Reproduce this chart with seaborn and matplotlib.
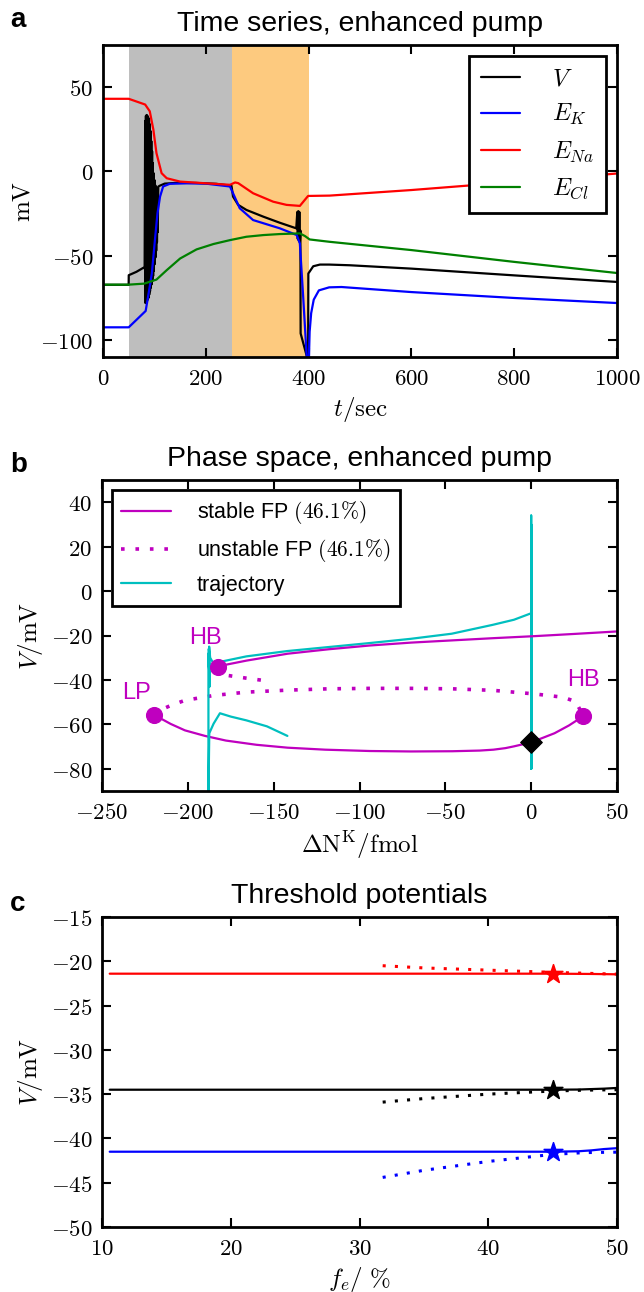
import matplotlib
matplotlib.use("Agg")
import matplotlib.pyplot as plt
from matplotlib.ticker import FuncFormatter, MultipleLocator
import seaborn as sns

# ---------------- panel a: time series ----------------
t_v = [0, 49.9, 50.1, 65, 78.5, 81,
       82, 82.5, 83.5, 84, 85, 85.5, 86.5, 87, 88, 88.5, 89.5, 90, 91, 91.5,
       92.5, 93, 94, 94.5, 95.5, 96, 97, 97.5, 98.5, 99, 100, 100.5, 101.5, 102,
       103, 103.5, 104.5, 105, 106, 106.5, 107.5,
       110, 120, 140, 180, 220, 250, 253, 263, 279, 312, 344, 376,
       378, 379, 380, 381, 382, 383, 384, 384.5, 396, 399, 399.5, 409, 422, 440,
       480, 600, 800, 1000]
v = [-67.2, -67.2, -61.5, -59.5, -57.1, -57.5,
     30, -78, 33, -78, 33.5, -77, 33, -76, 32, -75, 31, -73, 28, -71,
     24, -69, 18, -67, 12, -65, 5, -62, -1, -59, -5, -55, -8, -51,
     -9, -47, -10, -42, -10, -36, -9,
     -8.5, -7.2, -6.8, -6.8, -7.3, -8.5, -14.9, -19.8, -22.8, -26.8, -30.4, -33.7,
     -24, -40, -23.5, -41, -24, -42, -35, -96, -109, -118, -60.5, -56.2, -55.2, -55.2,
     -55.6, -57.6, -61.6, -65.5]

t_ek = [0, 50, 83, 90, 95, 101, 106, 111, 117, 130, 163, 200, 247, 253, 266,
        292, 344, 377, 383, 389, 396, 400, 402, 405, 410, 420, 440, 464, 600, 800, 1000]
ek = [-92.4, -92.4, -82.7, -70, -60.5, -40.7, -24.8, -14.9, -8.9, -7.3, -7.0, -7.2,
      -8.9, -12.9, -21.8, -28.8, -33.7, -37.7, -42.7, -72, -108, -118, -95, -84,
      -76, -70.5, -68.7, -68.5, -71.5, -75, -78]

t_ena = [0, 50, 82, 91, 98, 104, 114, 124, 150, 200, 247, 257, 263, 292, 331,
         357, 383, 399, 441, 600, 800, 1000]
ena = [43.1, 43.1, 39.7, 35.7, 24.8, 10.9, -1, -4, -6, -7, -7.9, -6.5, -6.9,
       -12.9, -17.9, -19.8, -20.4, -14.5, -14.3, -11, -6.2, -1.2]

t_ecl = [0, 50, 80, 104, 124, 150, 182, 215, 247, 279, 312, 344, 383, 393, 402,
         441, 600, 800, 1000]
ecl = [-67.1, -67.1, -66.5, -64.1, -58.5, -51.6, -46.2, -43, -40.7, -38.7, -37.7,
       -37.1, -36.7, -38.3, -40.3, -41.7, -46.6, -53.6, -60.2]

grey_window = (50, 250)
orange_window = (250, 400)

# ---------------- panel b: phase space ----------------
stable_low_dnk = [-219.5, -210, -201.7, -190, -177.8, -160, -141.9, -120, -94, -70,
                  -46, -30, -22, -15, -10, -5, 0.5, 6, 13.6, 22, 30.4]
stable_low_v = [-55.8, -59.8, -62.7, -65.2, -67.3, -69.2, -70.5, -71.4, -72, -72.2,
                -72.1, -71.8, -71.4, -70.7, -69.9, -69, -67.9, -66.3, -64, -60.5, -56.3]
stable_up_dnk = [-182.6, -180.1, -165.8, -141.9, -118, -94, -70, -46, -22, 1.7, 25, 49.5]
stable_up_v = [-34.3, -33.5, -31.3, -28.2, -26.2, -24.5, -23.2, -22.2, -21.2, -20.3,
               -19.3, -18.2]
unstable_dnk = [-219.5, -218.6, -210, -201.7, -185, -166, -142, -118, -94, -70,
                -46, -22, 1.9, 18.7, 26, 30.4]
unstable_v = [-55.8, -54.5, -51.5, -49.2, -47, -45.5, -44.6, -44, -43.8, -43.8,
              -44, -44.7, -46.3, -47.8, -49.8, -56.3]
unstable_hb_dnk = [-182.6, -178.4, -166, -153.3]
unstable_hb_v = [-34.3, -37.8, -39.2, -40.5]

traj_dnk = [0, 0, 0, 0, 0, 0, 0, 0, 0, 0.3, -10, -22.4, -46.3, -70.2, -94.1, -118,
            -142, -165.9, -180.2, -185, -187, -187.6, -187.3, -187.8, -187.4, -187.9,
            -187.5, -188, -187.7, -188, -188, -187.8, -187.5, -185, -181.3, -175,
            -165.9, -153.9, -142]
traj_v = [-68, -62, -80, 34, -80, 30, -70, 10, -20, -9.9, -12.9, -15.2, -19.2, -21.5,
          -23.4, -25.2, -27, -29.4, -31.7, -32.7, -30, -25, -43, -26, -40, -28,
          -37, -30, -34, -32, -115, -80, -64, -59.7, -55, -56.5, -58.2, -60.9, -65.2]

start_dnk, start_v = [0], [-68]
bif_dnk = [-219.5, -182.6, 30.4]
bif_v = [-55.8, -34.3, -56.3]
bif_names = ["LP", "HB", "HB"]
bif_text_dnk = [-230, -190, 30.5]
bif_text_v = [-46, -21, -40]

# ---------------- panel c: threshold potentials ----------------
fe_solid = [10.6, 20, 30, 40, 45, 47, 48, 49, 50]
thr_red = [-21.4, -21.4, -21.4, -21.4, -21.4, -21.42, -21.43, -21.45, -21.47]
thr_black = [-34.5, -34.5, -34.5, -34.5, -34.5, -34.48, -34.43, -34.38, -34.3]
thr_blue = [-41.5, -41.5, -41.5, -41.5, -41.5, -41.45, -41.35, -41.2, -41.1]
fe_dot = [31.8, 35, 40, 45, 47.5, 50]
thr_red_dot = [-20.5, -20.75, -21.0, -21.25, -21.35, -21.45]
thr_black_dot = [-35.9, -35.5, -35.0, -34.65, -34.55, -34.5]
thr_blue_dot = [-44.4, -43.6, -42.6, -41.8, -41.6, -41.55]
fe_star = [45, 45, 45]
v_star = [-21.4, -34.55, -41.5]
star_colors = ["red", "black", "blue"]

MAGENTA = "#bf00bf"
CYAN = "#00bfbf"
GREEN = "#008000"

# ---------------- style ----------------
sns.set_theme(style="ticks", color_codes=False, rc={
    "axes.linewidth": 2.0,
    "axes.edgecolor": "black",
    "axes.labelcolor": "black",
    "text.color": "black",
    "xtick.direction": "in", "ytick.direction": "in",
    "xtick.top": True, "ytick.right": True,
    "xtick.major.size": 6.5, "ytick.major.size": 6.5,
    "xtick.major.width": 1.5, "ytick.major.width": 1.5,
    "xtick.color": "black", "ytick.color": "black",
    "mathtext.fontset": "cm",
    "legend.fancybox": False,
})
plt.rcParams["font.family"] = ["Liberation Sans", "DejaVu Sans"]

fig = plt.figure(figsize=(6.44, 12.92), dpi=100)
W, H = 644, 1292
ax_a = fig.add_axes([103 / W, 1 - 357 / H, 514 / W, 312 / H])
ax_b = fig.add_axes([102 / W, 1 - 791 / H, 515 / W, 311 / H])
ax_c = fig.add_axes([102 / W, 1 - 1227 / H, 515 / W, 310 / H])

math_fmt = FuncFormatter(lambda val, pos: f"${val:g}$")
for ax in (ax_a, ax_b, ax_c):
    ax.xaxis.set_major_formatter(math_fmt)
    ax.yaxis.set_major_formatter(math_fmt)
    ax.tick_params(labelsize=16.5, pad=7)
    for s in ax.spines.values():
        s.set_linewidth(2.0)

lw = 1.6
dot = (0, (1, 3))

# panel a
ax_a.axvspan(*grey_window, color="#bebebe", lw=0, zorder=0)
ax_a.axvspan(*orange_window, color="#fdca7f", lw=0, zorder=0)
sns.lineplot(x=t_v, y=v, ax=ax_a, color="black", lw=lw, sort=False, estimator=None, label="$V$")
sns.lineplot(x=t_ek, y=ek, ax=ax_a, color="blue", lw=lw, sort=False, estimator=None, label="$E_K$")
sns.lineplot(x=t_ena, y=ena, ax=ax_a, color="red", lw=lw, sort=False, estimator=None, label="$E_{Na}$")
sns.lineplot(x=t_ecl, y=ecl, ax=ax_a, color=GREEN, lw=lw, sort=False, estimator=None, label="$E_{Cl}$")
ax_a.set_xlim(0, 1000)
ax_a.set_ylim(-110, 75)
ax_a.xaxis.set_major_locator(MultipleLocator(200))
ax_a.set_yticks([-100, -50, 0, 50])
ax_a.set_xlabel(r"$t/\mathrm{sec}$", fontsize=18, labelpad=4)
ax_a.set_ylabel(r"$\mathrm{mV}$", fontsize=18, labelpad=4)
ax_a.set_title("Time series, enhanced pump", fontsize=20.5, pad=10)
leg = ax_a.legend(loc="upper right", fontsize=17.5, frameon=True, framealpha=1,
                  edgecolor="black", handlelength=1.6, handletextpad=1.3,
                  labelspacing=0.5, borderpad=0.5, borderaxespad=0.45)
leg.get_frame().set_linewidth(2.0)

# panel b
sns.lineplot(x=stable_low_dnk, y=stable_low_v, ax=ax_b, color=MAGENTA, lw=lw, sort=False,
             estimator=None, label=r"stable FP $(46.1\%)$")
sns.lineplot(x=unstable_dnk, y=unstable_v, ax=ax_b, color=MAGENTA, lw=2.6, sort=False,
             estimator=None, linestyle=dot, label=r"unstable FP $(46.1\%)$")
sns.lineplot(x=traj_dnk, y=traj_v, ax=ax_b, color=CYAN, lw=lw, sort=False,
             estimator=None, label="trajectory")
sns.lineplot(x=stable_up_dnk, y=stable_up_v, ax=ax_b, color=MAGENTA, lw=lw, sort=False,
             estimator=None)
sns.lineplot(x=unstable_hb_dnk, y=unstable_hb_v, ax=ax_b, color=MAGENTA, lw=2.6, sort=False,
             estimator=None, linestyle=dot)
sns.scatterplot(x=bif_dnk, y=bif_v, ax=ax_b, color=MAGENTA, s=130, marker="o",
                edgecolor=MAGENTA, zorder=5)
sns.scatterplot(x=start_dnk, y=start_v, ax=ax_b, color="black", s=120, marker="D",
                edgecolor="black", zorder=6)
for name, xt, yt in zip(bif_names, bif_text_dnk, bif_text_v):
    ax_b.text(xt, yt, name, color=MAGENTA, fontsize=17, ha="center", va="center")
ax_b.set_xlim(-250, 50)
ax_b.set_ylim(-90, 50)
ax_b.xaxis.set_major_locator(MultipleLocator(50))
ax_b.set_yticks([-80, -60, -40, -20, 0, 20, 40])
ax_b.set_xlabel(r"$\Delta\mathrm{N}^\mathrm{K}/\mathrm{fmol}$", fontsize=18, labelpad=4)
ax_b.set_ylabel(r"$V/\mathrm{mV}$", fontsize=18, labelpad=4)
ax_b.set_title("Phase space, enhanced pump", fontsize=20.5, pad=10)
leg = ax_b.legend(loc="upper left", fontsize=15.5, frameon=True, framealpha=1,
                  edgecolor="black", handlelength=2.3, handletextpad=1.2,
                  labelspacing=0.5, borderpad=0.45, borderaxespad=0.45)
leg.get_frame().set_linewidth(2.0)

# panel c
for col, ys, yd in zip(["red", "black", "blue"], [thr_red, thr_black, thr_blue],
                       [thr_red_dot, thr_black_dot, thr_blue_dot]):
    sns.lineplot(x=fe_solid, y=ys, ax=ax_c, color=col, lw=lw, sort=False, estimator=None)
    sns.lineplot(x=fe_dot, y=yd, ax=ax_c, color=col, lw=2.2, sort=False,
                 estimator=None, linestyle=dot)
for xs, ys, col in zip(fe_star, v_star, star_colors):
    sns.scatterplot(x=[xs], y=[ys], ax=ax_c, color=col, s=200, marker="*",
                    edgecolor=col, zorder=5)
ax_c.set_xlim(10, 50)
ax_c.set_ylim(-50, -15)
ax_c.xaxis.set_major_locator(MultipleLocator(10))
ax_c.yaxis.set_major_locator(MultipleLocator(5))
ax_c.set_xlabel(r"$f_e/\ \%$", fontsize=18, labelpad=4)
ax_c.set_ylabel(r"$V/\mathrm{mV}$", fontsize=18, labelpad=4)
ax_c.set_title("Threshold potentials", fontsize=20.5, pad=10)

for lab, ypix in zip(["a", "b", "c"], [20, 465, 904]):
    fig.text(10 / W, 1 - ypix / H, lab, fontsize=20, fontweight="bold",
             ha="left", va="center")

fig.savefig("out.png", dpi=100)
